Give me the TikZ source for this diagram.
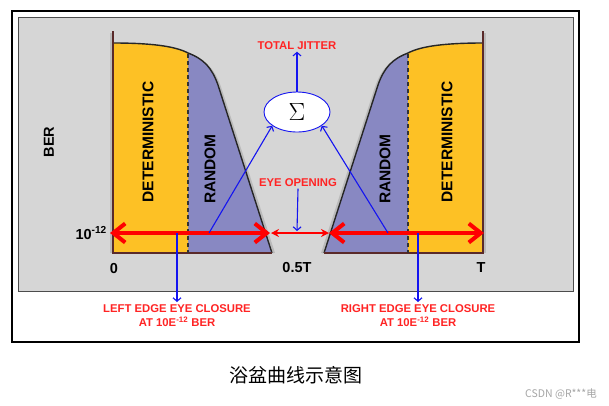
\documentclass[tikz,border=0pt]{standalone}
\usepackage{fontspec}
\setmainfont{Liberation Sans}
\newfontfamily\cjk{Noto Sans CJK SC}
\usetikzlibrary{arrows.meta,shapes.geometric}
\definecolor{panelgray}{HTML}{D6D6D6}
\definecolor{detorange}{HTML}{FDC125}
\definecolor{rndpurple}{HTML}{8888C2}
\definecolor{jred}{HTML}{FF0000}
\definecolor{lblred}{HTML}{FF2424}
\definecolor{jblue}{HTML}{1414F0}
\definecolor{edgebrown}{HTML}{5A2A2A}
\tikzset{
  bigtxt/.style={font=\fontsize{15.5}{15.5}\selectfont\bfseries, text=black, inner sep=0},
  axtxt/.style={font=\fontsize{14.5}{14.5}\selectfont\bfseries, text=black, inner sep=0},
  redlbl/.style={font=\fontsize{11.3}{14}\selectfont\bfseries, text=lblred, align=center, inner sep=1.5pt},
  redarrow/.style={draw=jred, line width=4, {Straight Barb[length=12pt,width=19pt,line width=4pt]}-{Straight Barb[length=12pt,width=19pt,line width=4pt]}},
  smallred/.style={draw=jred, line width=1.8, {Stealth[length=8pt,width=8pt]}-{Stealth[length=8pt,width=8pt]}},
  bluearr/.style={draw=jblue, line width=1.1, -{Straight Barb[length=3.5pt,width=8pt,line width=1.1pt]}},
  dashsep/.style={draw=black!80, line width=1.2, dash pattern=on 4pt off 3pt},
  shadowline/.style={draw=black!40, line width=2, opacity=.45},
}
\begin{document}
\begin{tikzpicture}[x=1pt,y=-1pt]
\useasboundingbox (0,0) rectangle (609,405);
\fill[white] (0,0) rectangle (609,405);
% frames
\draw[black, line width=1.2] (12,11) rectangle (579,342);
\draw[black!70, fill=panelgray, line width=1] (18,17) rectangle (573,291);
% the two halves of the bathtub (right one mirrored about x=298)
\foreach \s/\sh in {1/0,-1/596}{
\begin{scope}[shift={(\sh,0)}, xscale=\s]
  \draw[shadowline] (111,33) -- (111,253);
  \draw[shadowline] (115,45) .. controls (152,45) and (177,48) .. (190,55) .. controls (206,61) and (214,70) .. (220,87) -- (274,253);
  \fill[rndpurple] (113,253) -- (113,43) .. controls (150,43) and (175,46) .. (188,53) .. controls (204,59) and (212,68) .. (218,85) -- (272,253) -- cycle;
  \begin{scope}
    \clip (113,30) rectangle (188,253);
    \fill[detorange] (113,253) -- (113,43) .. controls (150,43) and (175,46) .. (188,53) .. controls (204,59) and (212,68) .. (218,85) -- (272,253) -- cycle;
  \end{scope}
  \draw[black!85, line width=1.4] (113,43) .. controls (150,43) and (175,46) .. (188,53) .. controls (204,59) and (212,68) .. (218,85) -- (272,253);
  \draw[edgebrown, line width=1.2] (113,31) -- (113,253) -- (272,253);
  \draw[dashsep] (188,54) -- (188,253);
\end{scope}
}
% region texts
\node[bigtxt, rotate=90] (detl) at (148,142) {DETERMINISTIC};
\node[bigtxt, rotate=90] (rndl) at (210,169) {RANDOM};
\node[bigtxt, rotate=90] (rndr) at (385,169) {RANDOM};
\node[bigtxt, rotate=90] (detr) at (447,142) {DETERMINISTIC};
% axis texts
\node[axtxt, rotate=90] (ber) at (49,142) {BER};
\node[axtxt, anchor=east] (tenm) at (107,233) {10\textsuperscript{-12}};
\node[axtxt] (zero) at (114,268) {0};
\node[axtxt] (half) at (297,267) {0.5T};
\node[axtxt] (tee) at (481,268) {T};
% red arrows
\coordinate (lA) at (110,233);
\coordinate (lB) at (270,233);
\coordinate (cA) at (271,233);
\coordinate (cB) at (329,233);
\coordinate (rA) at (329,233);
\coordinate (rB) at (484,233);
\draw[smallred] (cA) -- (cB);
\draw[redarrow] (lA) -- (lB);
\draw[redarrow] (rA) -- (rB);
% sigma
\node[ellipse, draw=jblue, line width=0.9, fill=white, minimum width=66, minimum height=40, inner sep=0] (sigma) at (297,112) {\fontsize{30}{30}\selectfont$\Sigma$};
\node[redlbl] (total) at (297,46) {TOTAL JITTER};
\node[redlbl] (eyeop) at (298,183) {EYE OPENING};
\coordinate (ls) at (209,233);
\coordinate (rs) at (388,233);
\coordinate (eyetip) at (297,231);
\draw[bluearr] (ls) -- (sigma.209);
\draw[bluearr] (rs) -- (sigma.-29);
\draw[bluearr] (sigma.north) -- (total.south);
\draw[bluearr] (eyeop.south) -- (eyetip);
% closure labels
\coordinate (lcl) at (177,233);
\coordinate (rcl) at (418,233);
\node[redlbl, anchor=north, inner sep=0] (leftlbl) at (177,304) {LEFT EDGE EYE CLOSURE\\AT 10E\textsuperscript{-12} BER};
\node[redlbl, anchor=north, inner sep=0] (rightlbl) at (418,304) {RIGHT EDGE EYE CLOSURE\\AT 10E\textsuperscript{-12} BER};
\draw[bluearr] (lcl) -- ([yshift=2pt]leftlbl.north);
\draw[bluearr] (rcl) -- ([yshift=2pt]rightlbl.north);
% caption and watermark
\node[font=\cjk\fontsize{19}{19}\selectfont, text=black] (cap) at (296,375) {浴盆曲线示意图};
\node[font=\cjk\fontsize{10.5}{10.5}\selectfont, text=black!35] (wm) at (561,394) {CSDN @R***电};
\end{tikzpicture}
\end{document}
